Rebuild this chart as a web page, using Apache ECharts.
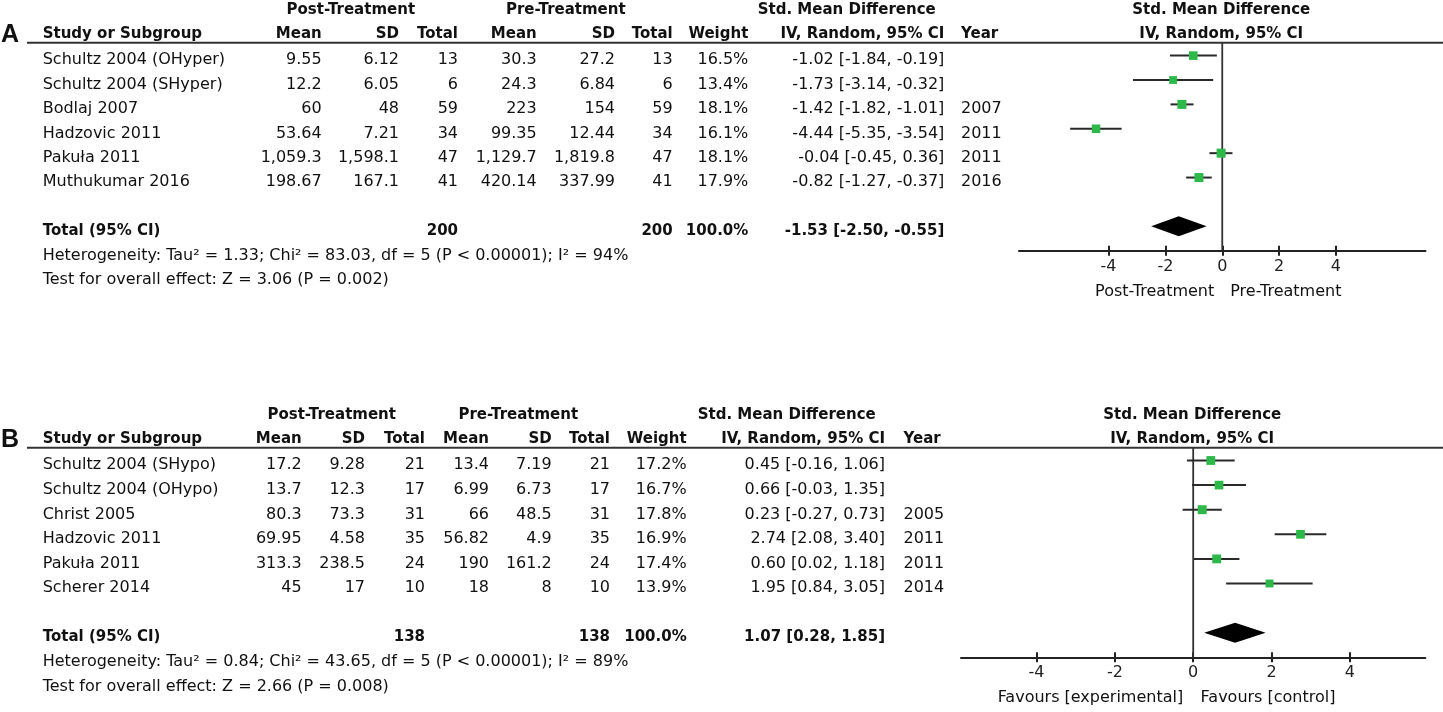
<!DOCTYPE html>
<html><head><meta charset="utf-8">
<script src="https://cdn.jsdelivr.net/npm/echarts@6/dist/echarts.min.js"></script>
<style>html,body{margin:0;padding:0;background:#fff}#c{width:1443px;height:712px}</style>
</head><body><div id="c"></div>
<script>
// ---------- Panel A data ----------
const studiesA = ['Schultz 2004 (OHyper)', 'Schultz 2004 (SHyper)', 'Bodlaj 2007', 'Hadzovic 2011', 'Pakuła 2011', 'Muthukumar 2016'];
const postMeanA = ['9.55', '12.2', '60', '53.64', '1,059.3', '198.67'];
const postSdA = ['6.12', '6.05', '48', '7.21', '1,598.1', '167.1'];
const postTotalA = [13, 6, 59, 34, 47, 41];
const preMeanA = ['30.3', '24.3', '223', '99.35', '1,129.7', '420.14'];
const preSdA = ['27.2', '6.84', '154', '12.44', '1,819.8', '337.99'];
const preTotalA = [13, 6, 59, 34, 47, 41];
const weightA = [16.5, 13.4, 18.1, 16.1, 18.1, 17.9];
const smdA = [-1.02, -1.73, -1.42, -4.44, -0.04, -0.82];
const loA = [-1.84, -3.14, -1.82, -5.35, -0.45, -1.27];
const hiA = [-0.19, -0.32, -1.01, -3.54, 0.36, -0.37];
const yearA = ['', '', '2007', '2011', '2011', '2016'];
const totalA = { post: 200, pre: 200, smd: -1.53, lo: -2.50, hi: -0.55 };
const hetA = 'Heterogeneity: Tau² = 1.33; Chi² = 83.03, df = 5 (P < 0.00001); I² = 94%';
const testA = 'Test for overall effect: Z = 3.06 (P = 0.002)';
const favA = ['Post-Treatment', 'Pre-Treatment'];

// ---------- Panel B data ----------
const studiesB = ['Schultz 2004 (SHypo)', 'Schultz 2004 (OHypo)', 'Christ 2005', 'Hadzovic 2011', 'Pakuła 2011', 'Scherer 2014'];
const postMeanB = ['17.2', '13.7', '80.3', '69.95', '313.3', '45'];
const postSdB = ['9.28', '12.3', '73.3', '4.58', '238.5', '17'];
const postTotalB = [21, 17, 31, 35, 24, 10];
const preMeanB = ['13.4', '6.99', '66', '56.82', '190', '18'];
const preSdB = ['7.19', '6.73', '48.5', '4.9', '161.2', '8'];
const preTotalB = [21, 17, 31, 35, 24, 10];
const weightB = [17.2, 16.7, 17.8, 16.9, 17.4, 13.9];
const smdB = [0.45, 0.66, 0.23, 2.74, 0.60, 1.95];
const loB = [-0.16, -0.03, -0.27, 2.08, 0.02, 0.84];
const hiB = [1.06, 1.35, 0.73, 3.40, 1.18, 3.05];
const yearB = ['', '', '2005', '2011', '2011', '2014'];
const totalB = { post: 138, pre: 138, smd: 1.07, lo: 0.28, hi: 1.85 };
const hetB = 'Heterogeneity: Tau² = 0.84; Chi² = 43.65, df = 5 (P < 0.00001); I² = 89%';
const testB = 'Test for overall effect: Z = 2.66 (P = 0.008)';
const favB = ['Favours [experimental]', 'Favours [control]'];

const tickValues = [-4, -2, 0, 2, 4];
const headers = ['Study or Subgroup', 'Mean', 'SD', 'Total', 'Weight', 'IV, Random, 95% CI', 'Year', 'Post-Treatment', 'Pre-Treatment', 'Std. Mean Difference'];

// ---------- layout ----------
const FONT = 'DejaVu Sans';
const panels = [
  { label: 'A', studies: studiesA, postMean: postMeanA, postSd: postSdA, postTotal: postTotalA, preMean: preMeanA, preSd: preSdA, preTotal: preTotalA,
    weight: weightA, smd: smdA, lo: loA, hi: hiA, year: yearA, total: totalA, het: hetA, test: testA, fav: favA,
    grid: { left: 1019, top: 42.7, width: 406.5, height: 208 }, xr: 7.15, yMin: 0.47, yMax: 9.0,
    col: { study: 42.7, postMean: 321.7, postSd: 399, postTot: 458, preMean: 536.7, preSd: 615, preTot: 672.7, weight: 748.3, ci: 944.3, year: 961, hPost: 350.8, hPre: 565.8, hSmd: 846.7 },
    favGap: [8, 8] },
  { label: 'B', studies: studiesB, postMean: postMeanB, postSd: postSdB, postTotal: postTotalB, preMean: preMeanB, preSd: preSdB, preTotal: preTotalB,
    weight: weightB, smd: smdB, lo: loB, hi: hiB, year: yearB, total: totalB, het: hetB, test: testB, fav: favB,
    grid: { left: 961, top: 447.7, width: 464.4, height: 209.6 }, xr: 5.93, yMin: 0.48, yMax: 9.0,
    col: { study: 42.7, postMean: 301.7, postSd: 365, postTot: 425, preMean: 489, preSd: 551.7, preTot: 610, weight: 686.7, ci: 885, year: 903.5, hPost: 331.7, hPre: 518.3, hSmd: 786.7 },
    favGap: [10, 7.4] }
];

const chart = echarts.init(document.getElementById('c'));
const grids = [], xAxes = [], yAxes = [], series = [];
const axColor = '#222';
panels.forEach((p, gi) => {
  grids.push(Object.assign({ containLabel: false }, p.grid));
  xAxes.push({ gridIndex: gi, type: 'value', min: -p.xr, max: p.xr, position: 'bottom',
    axisLine: { show: true, onZero: false, lineStyle: { color: axColor, width: 2 } },
    axisTick: { show: true, customValues: tickValues, length: 5, lineStyle: { color: axColor, width: 2 } },
    axisLabel: { show: true, customValues: tickValues, margin: 8, fontFamily: FONT, fontSize: 16, color: axColor, formatter: v => String(v) },
    splitLine: { show: false } });
  xAxes.push({ gridIndex: gi, type: 'value', min: -p.xr, max: p.xr, position: 'bottom',
    axisLine: { show: false },
    axisTick: { show: true, inside: true, customValues: tickValues, length: 5, lineStyle: { color: axColor, width: 2 } },
    axisLabel: { show: false }, splitLine: { show: false } });
  yAxes.push({ gridIndex: gi, type: 'value', inverse: true, min: p.yMin, max: p.yMax, show: false });
  const xi = gi * 2;
  // zero line
  series.push({ type: 'line', xAxisIndex: xi, yAxisIndex: gi, data: [[0, p.yMin], [0, p.yMax]], symbol: 'none', silent: true,
    lineStyle: { color: '#333', width: 1.8 }, z: 1 });
  // CI whiskers
  series.push({ type: 'custom', xAxisIndex: xi, yAxisIndex: gi, silent: true, z: 2,
    data: p.smd.map((v, i) => [p.lo[i], p.hi[i], i + 1]),
    encode: { x: [0, 1], y: 2 },
    renderItem: (params, api) => {
      const a = api.coord([api.value(0), api.value(2)]);
      const b = api.coord([api.value(1), api.value(2)]);
      return { type: 'line', shape: { x1: a[0], y1: a[1], x2: b[0], y2: b[1] }, style: { stroke: '#2a2a2a', lineWidth: 2 } };
    } });
  // squares
  series.push({ type: 'scatter', xAxisIndex: xi, yAxisIndex: gi, silent: true, z: 3, symbol: 'rect',
    data: p.smd.map((v, i) => [v, i + 1, p.weight[i]]),
    symbolSize: v => 9 * Math.sqrt(v[2] / 18),
    itemStyle: { color: '#2db84a', opacity: 1 } });
  // diamond
  series.push({ type: 'custom', xAxisIndex: xi, yAxisIndex: gi, silent: true, z: 3,
    data: [[p.total.lo, p.total.smd, p.total.hi, 8]],
    encode: { x: [0, 1, 2], y: 3 },
    renderItem: (params, api) => {
      const l = api.coord([api.value(0), api.value(3)]);
      const m = api.coord([api.value(1), api.value(3)]);
      const r = api.coord([api.value(2), api.value(3)]);
      const h = 10;
      return { type: 'polygon', shape: { points: [[l[0], l[1]], [m[0], m[1] - h], [r[0], r[1]], [m[0], m[1] + h]] }, style: { fill: '#000' } };
    } });
});

chart.setOption({ animation: false, backgroundColor: '#fff', grid: grids, xAxis: xAxes, yAxis: yAxes, series: series });

// ---------- table text via the library's scales ----------
const graphics = [];
function txt(x, y, s, align, bold, size, family) {
  graphics.push({ type: 'text', silent: true, z: 10, style: { x: x, y: y, text: String(s), align: align, verticalAlign: 'middle',
    fontFamily: family || FONT, fontSize: size || 16, fontWeight: bold ? 'bold' : 'normal', fill: '#111' } });
}
panels.forEach((p, gi) => {
  const xi = gi * 2;
  const y1 = chart.convertToPixel({ yAxisIndex: gi }, 1);
  const y2 = chart.convertToPixel({ yAxisIndex: gi }, 2);
  const step = y2 - y1;
  const rowText = r => y1 + (r - 1) * step + 4.7;
  const top = chart.convertToPixel({ yAxisIndex: gi }, p.yMin);
  const axisY = chart.convertToPixel({ yAxisIndex: gi }, p.yMax);
  const zeroX = chart.convertToPixel({ xAxisIndex: xi }, 0);
  const c = p.col;
  // header rule
  graphics.push({ type: 'line', silent: true, z: 9, shape: { x1: 27, y1: top, x2: 1443, y2: top }, style: { stroke: '#333', lineWidth: 2 } });
  // panel letter
  txt(1, top - 7.5, p.label, 'left', true, 25, 'Liberation Sans');
  const h1 = top - 33, h2 = top - 9;
  const B = 15;
  txt(c.hPost, h1, headers[7], 'center', true, B);
  txt(c.hPre, h1, headers[8], 'center', true, B);
  txt(c.hSmd, h1, headers[9], 'center', true, B);
  txt(zeroX - 1, h1, headers[9], 'center', true, B);
  txt(c.study, h2, headers[0], 'left', true, B);
  txt(c.postMean, h2, headers[1], 'right', true, B);
  txt(c.postSd, h2, headers[2], 'right', true, B);
  txt(c.postTot, h2, headers[3], 'right', true, B);
  txt(c.preMean, h2, headers[1], 'right', true, B);
  txt(c.preSd, h2, headers[2], 'right', true, B);
  txt(c.preTot, h2, headers[3], 'right', true, B);
  txt(c.weight, h2, headers[4], 'right', true, B);
  txt(c.ci, h2, headers[5], 'right', true, B);
  txt(c.year, h2, headers[6], 'left', true, B);
  txt(zeroX - 1, h2, headers[5], 'center', true, B);
  const f2 = v => v.toFixed(2);
  p.studies.forEach((s, i) => {
    const y = rowText(i + 1);
    txt(c.study, y, s, 'left');
    txt(c.postMean, y, p.postMean[i], 'right');
    txt(c.postSd, y, p.postSd[i], 'right');
    txt(c.postTot, y, p.postTotal[i], 'right');
    txt(c.preMean, y, p.preMean[i], 'right');
    txt(c.preSd, y, p.preSd[i], 'right');
    txt(c.preTot, y, p.preTotal[i], 'right');
    txt(c.weight, y, p.weight[i].toFixed(1) + '%', 'right');
    txt(c.ci, y, f2(p.smd[i]) + ' [' + f2(p.lo[i]) + ', ' + f2(p.hi[i]) + ']', 'right');
    if (p.year[i]) txt(c.year, y, p.year[i], 'left');
  });
  const yt = rowText(8);
  txt(c.study, yt, 'Total (95% CI)', 'left', true, B);
  txt(c.postTot, yt, p.total.post, 'right', true, B);
  txt(c.preTot, yt, p.total.pre, 'right', true, B);
  txt(c.weight, yt, '100.0%', 'right', true, B);
  txt(c.ci, yt, f2(p.total.smd) + ' [' + f2(p.total.lo) + ', ' + f2(p.total.hi) + ']', 'right', true, B);
  txt(c.study, rowText(9), p.het, 'left');
  txt(c.study, rowText(10), p.test, 'left');
  // favours labels
  txt(zeroX - p.favGap[0], axisY + 41, p.fav[0], 'right');
  txt(zeroX + p.favGap[1], axisY + 41, p.fav[1], 'left');
});
chart.setOption({ graphic: { elements: graphics } });
</script></body></html>
